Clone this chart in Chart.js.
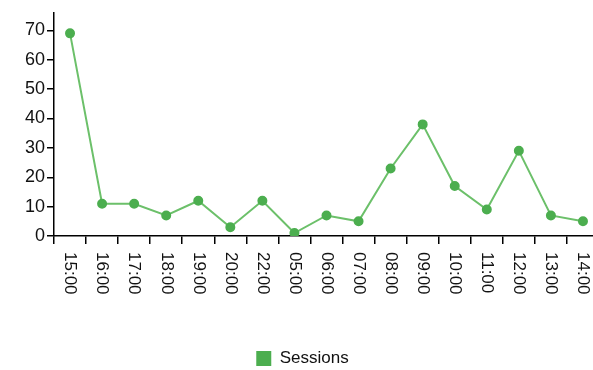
<!DOCTYPE html>
<html lang="en">
<head>
  <meta charset="UTF-8" />
  <title>Sessions</title>
  <style>
    html, body { margin: 0; padding: 0; overflow: hidden; background: #fff; }
  </style>
</head>
<body>
  <canvas id="chart" width="605" height="370"></canvas>
  <script src="https://cdn.jsdelivr.net/npm/chart.js@4/dist/chart.umd.min.js"></script>
  <script>
// data
const hours = ['15:00', '16:00', '17:00', '18:00', '19:00', '20:00', '22:00', '05:00', '06:00',
  '07:00', '08:00', '09:00', '10:00', '11:00', '12:00', '13:00', '14:00']
const sessions = [69, 11, 11, 7, 12, 3, 12, 1, 7, 5, 23, 38, 17, 9, 29, 7, 5]
const yTicks = [0, 10, 20, 30, 40, 50, 60, 70]

const FONT = '"Liberation Sans", Arial, Helvetica, sans-serif'

// x labels read top-to-bottom (rotated clockwise), so draw them ourselves
const verticalLabels = {
  id: 'verticalLabels',
  afterDraw(chart) {
    const ctx = chart.ctx
    const x = chart.scales.x
    ctx.save()
    ctx.fillStyle = '#111'
    ctx.font = '17px ' + FONT
    ctx.textAlign = 'left'
    ctx.textBaseline = 'middle'
    hours.forEach((h, i) => {
      ctx.save()
      ctx.translate(x.getPixelForValue(i), x.top + 16)
      ctx.rotate(Math.PI / 2)
      ctx.fillText(h, 0, 0)
      ctx.restore()
    })
    ctx.restore()
  }
}

new Chart(document.getElementById('chart'), {
  type: 'line',
  data: {
    labels: hours,
    datasets: [{
      label: 'Sessions',
      data: sessions,
      borderColor: '#6cc06a',
      backgroundColor: '#4cae4f',
      pointBackgroundColor: '#4cae4f',
      pointBorderColor: '#4cae4f',
      pointRadius: 4,
      borderWidth: 2,
      tension: 0
    }]
  },
  options: {
    responsive: false,
    animation: false,
    layout: { padding: { top: 12, left: 0, right: 0, bottom: -7 } },
    plugins: {
      tooltip: { enabled: false },
      legend: {
        position: 'bottom',
        labels: {
          color: '#111',
          font: { family: FONT, size: 17 },
          boxWidth: 15,
          boxHeight: 15,
          padding: 10,
          generateLabels(chart) {
            const ds = chart.data.datasets[0]
            return [{ text: ds.label, fillStyle: ds.backgroundColor, strokeStyle: ds.backgroundColor,
              lineWidth: 0, fontColor: '#111', datasetIndex: 0 }]
          }
        }
      }
    },
    scales: {
      x: {
        offset: true,
        grid: { offset: true, drawOnChartArea: false, color: '#000', tickLength: 8, lineWidth: 1.5 },
        border: { color: '#000', width: 1.5 },
        ticks: { display: false },
        afterFit(s) { s.height = 104 }
      },
      y: {
        min: 0,
        max: 76,
        grid: { drawOnChartArea: false, color: '#000', tickLength: 7, lineWidth: 1.5 },
        border: { color: '#000', width: 1.5 },
        ticks: {
          color: '#111',
          font: { family: FONT, size: 18 },
          padding: 2,
          stepSize: 10
        },
        afterBuildTicks(s) { s.ticks = yTicks.map(v => ({ value: v })) },
        afterFit(s) { s.width = 54 }
      }
    }
  },
  plugins: [verticalLabels]
})
  </script>
</body>
</html>
